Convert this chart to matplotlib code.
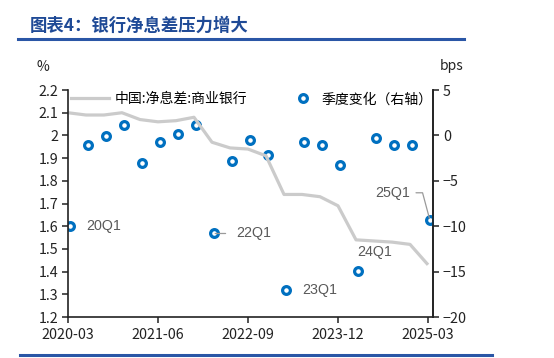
#!/usr/bin/env python3
# Bank NIM (commercial banks, %) with its quarter-on-quarter change (bps, right axis).

import matplotlib

matplotlib.use("Agg")
import matplotlib.pyplot as plt
import numpy as np

plt.rcParams["font.family"] = ["Noto Sans CJK SC", "DejaVu Sans"]

# ---------------------------------------------------------------------------------------------
# Data (2020Q1 .. 2025Q1)
# ---------------------------------------------------------------------------------------------

QUARTERS = [
    "20Q1", "20Q2", "20Q3", "20Q4",
    "21Q1", "21Q2", "21Q3", "21Q4",
    "22Q1", "22Q2", "22Q3", "22Q4",
    "23Q1", "23Q2", "23Q3", "23Q4",
    "24Q1", "24Q2", "24Q3", "24Q4",
    "25Q1",
]
NIM = [
    2.10, 2.09, 2.09, 2.10,
    2.07, 2.06, 2.065, 2.08,
    1.97, 1.945, 1.94, 1.91,
    1.74, 1.74, 1.73, 1.69,
    1.54, 1.535, 1.53, 1.52,
    1.43,
]
QOQ_BPS = [
    -10.0, -1.0, -0.1, 1.1,
    -3.0, -0.7, 0.2, 1.2,
    -10.8, -2.8, -0.5, -2.2,
    -17.0, -0.7, -1.1, -3.3,
    -14.9, -0.3, -1.1, -1.0,
    -9.3,
]
TICK_LABELS = ["2020-03", "2021-06", "2022-09", "2023-12", "2025-03"]
TICK_QUARTERS = ["20Q1", "21Q2", "22Q3", "23Q4", "25Q1"]
LABELLED = ["20Q1", "22Q1", "23Q1", "24Q1", "25Q1"]

TITLE = "图表4：银行净息差压力增大"
LINE_LABEL = "中国:净息差:商业银行"
DOT_LABEL = "季度变化（右轴）"

BLUE = "#0070C0"
GREY_LINE = "#CBCBCB"
GREY_TEXT = "#595959"
TITLE_BLUE = "#1F4A96"

# ---------------------------------------------------------------------------------------------
# Figure
# ---------------------------------------------------------------------------------------------

fig = plt.figure(figsize=(5.54, 3.58), dpi=100)
ax = fig.add_axes([0.1227, 0.1145, 0.659, 0.634])
ax2 = ax.twinx()

x = np.arange(len(QUARTERS))

ax.plot(x, NIM, color=GREY_LINE, lw=2.3, solid_capstyle="butt", zorder=2)
ax2.plot(
    x + 0.1, QOQ_BPS, ls="none", marker="o", ms=5.6, mew=2.3,
    mec=BLUE, mfc="none", zorder=3,
)

ax.set_xlim(0, 20.28)
ax.set_ylim(1.2, 2.2)
ax2.set_ylim(-20, 5)
ax.set_yticks(np.arange(1.2, 2.21, 0.1))
ax.set_yticklabels(["1.2", "1.3", "1.4", "1.5", "1.6", "1.7", "1.8", "1.9", "2", "2.1", "2.2"])
ax2.set_yticks([5, 0, -5, -10, -15, -20])
ax.set_xticks([QUARTERS.index(q) for q in TICK_QUARTERS])
ax.set_xticklabels(TICK_LABELS)

for a in (ax, ax2):
    a.spines["top"].set_visible(False)
    for s in ("left", "right", "bottom"):
        a.spines[s].set_linewidth(1.2)
        a.spines[s].set_color("#222222")
    a.tick_params(direction="out", length=4, width=1.1, labelsize=10.3,
                  colors="#222222", pad=3)
ax2.spines["left"].set_visible(False)
ax2.spines["bottom"].set_visible(False)
ax.tick_params(axis="x", pad=4)
ax.set_zorder(ax2.get_zorder() + 1)
ax.patch.set_visible(False)

# unit labels above the axes
ax.text(-0.07, 1.1, "%", transform=ax.transAxes, fontsize=10, color="#222222",
        ha="center", va="center")
ax2.text(1.05, 1.105, "bps", transform=ax2.transAxes, fontsize=10, color="#222222",
         ha="center", va="center")

# point labels: (dx, dy) in points, optional leader line and its gap at the text end
offsets = {
    "20Q1": (12, 0, None, 0),
    "22Q1": (16.5, 0, "arc3", 6),
    "23Q1": (11.5, 0, None, 0),
    "24Q1": (12, 13.5, None, 0),
    "25Q1": (-26.5, 19.5, "angle,angleA=0,angleB=105,rad=0", 2),
}
for q in LABELLED:
    i = QUARTERS.index(q)
    dx, dy, conn, gap = offsets[q]
    arrow = None
    if conn:
        arrow = dict(arrowstyle="-", color="#9A9A9A", lw=0.9, connectionstyle=conn,
                     shrinkA=gap, shrinkB=1)
    ax2.annotate(
        q, xy=(i + 0.1, QOQ_BPS[i]), xytext=(dx, dy), textcoords="offset points",
        ha="center" if dy else "left", va="center", fontsize=10.3, color=GREY_TEXT,
        family=["Liberation Sans", "DejaVu Sans"], arrowprops=arrow, zorder=4,
    )

# legend, laid out in one row above the data
h1 = plt.Line2D([], [], color=GREY_LINE, lw=2.3)
h2 = plt.Line2D([], [], ls="none", marker="o", ms=5.6, mew=2.3, mec=BLUE, mfc="none")
ax.legend([h1], [LINE_LABEL], loc="upper left", bbox_to_anchor=(-0.025, 1.045),
          frameon=False, fontsize=10, handlelength=2.7, handletextpad=0.4)
ax2.legend([h2], [DOT_LABEL], loc="upper left", bbox_to_anchor=(0.588, 1.045),
           frameon=False, fontsize=10, handlelength=1.2, handletextpad=0.7)

# report header and rules
fig.text(0.054, 0.928, TITLE, fontsize=12.5, fontweight="bold", style="italic",
         color=TITLE_BLUE, ha="left", va="center")
fig.add_artist(plt.Line2D([0.033, 0.837], [0.890, 0.890], color="#2A56A6", lw=2.2))
fig.add_artist(plt.Line2D([0.036, 0.888], [0.008, 0.008], color="#2A56A6", lw=2.2))

fig.savefig("out.png", dpi=100)
